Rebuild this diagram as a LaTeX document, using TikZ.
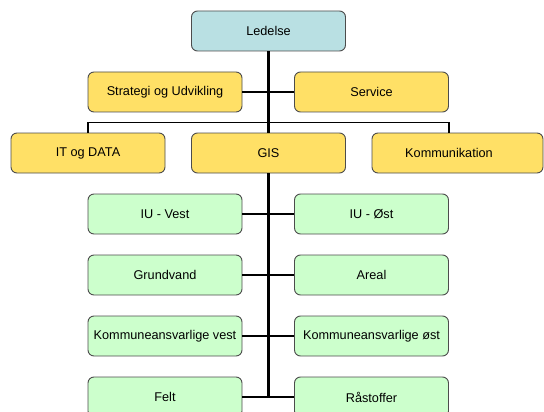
\documentclass[tikz,border=0pt]{standalone}
\usepackage{fontspec}
\setmainfont{Liberation Sans}
\usepackage{xcolor}
\usepackage{tikz}

\definecolor{topcol}{HTML}{B9E0E3}
\definecolor{deptcol}{HTML}{FFE066}
\definecolor{teamcol}{HTML}{CCFFCC}

\tikzset{
	unit/.style={draw=black!70, line width=0.9pt, rounded corners=6pt,
		minimum width=154pt, minimum height=40pt, inner sep=0pt,
		font=\fontsize{12.7}{15}\selectfont},
	top/.style={unit, fill=topcol},
	dept/.style={unit, fill=deptcol},
	team/.style={unit, fill=teamcol},
	link/.style={line width=2.2pt, black},
	bus/.style={line width=1.4pt, black}
}

\begin{document}
\begin{tikzpicture}[x=1pt, y=-1pt]

	\useasboundingbox (0,0) rectangle (544,412);

	\def \l {165}
	\def \c {268.5}
	\def \r {371.5}

	\node[top] (led) at (\c,31) {Ledelse};

	\node[dept] (strat) at (\l,92) {Strategi og Udvikling};
	\node[dept] (serv) at (\r,92) {Service};

	\node[dept] (it) at (88,153) {IT og DATA};
	\node[dept] (gis) at (\c,153) {GIS};
	\node[dept, minimum width=171pt] (kom) at (457.5,153) {\hspace*{-17pt}Kommunikation};

	\node[team] (iuv) at (\l,214) {IU - Vest};
	\node[team] (iuo) at (\r,214) {IU - Øst};
	\node[team] (grund) at (\l,275) {Grundvand};
	\node[team] (areal) at (\r,275) {Areal};
	\node[team] (kv) at (\l,336) {Kommuneansvarlige vest};
	\node[team] (ko) at (\r,336) {Kommuneansvarlige øst};
	\node[team] (felt) at (\l,397) {Felt};
	\node[team] (raa) at (\r,397) {Råstoffer};

	\coordinate (hub) at (\c,122.7);
	\coordinate (end) at (\c,397);

	\draw[link] (led) -- (gis);
	\draw[link] (strat) -- (serv);
	\draw[bus] (it.north) |- (hub) -| ([xshift=-8.5pt]kom.north);

	\draw[link] (gis) -- (end);
	\draw[link] (iuv) -- (iuo);
	\draw[link] (grund) -- (areal);
	\draw[link] (kv) -- (ko);
	\draw[link] (felt) -- (raa);

\end{tikzpicture}
\end{document}
